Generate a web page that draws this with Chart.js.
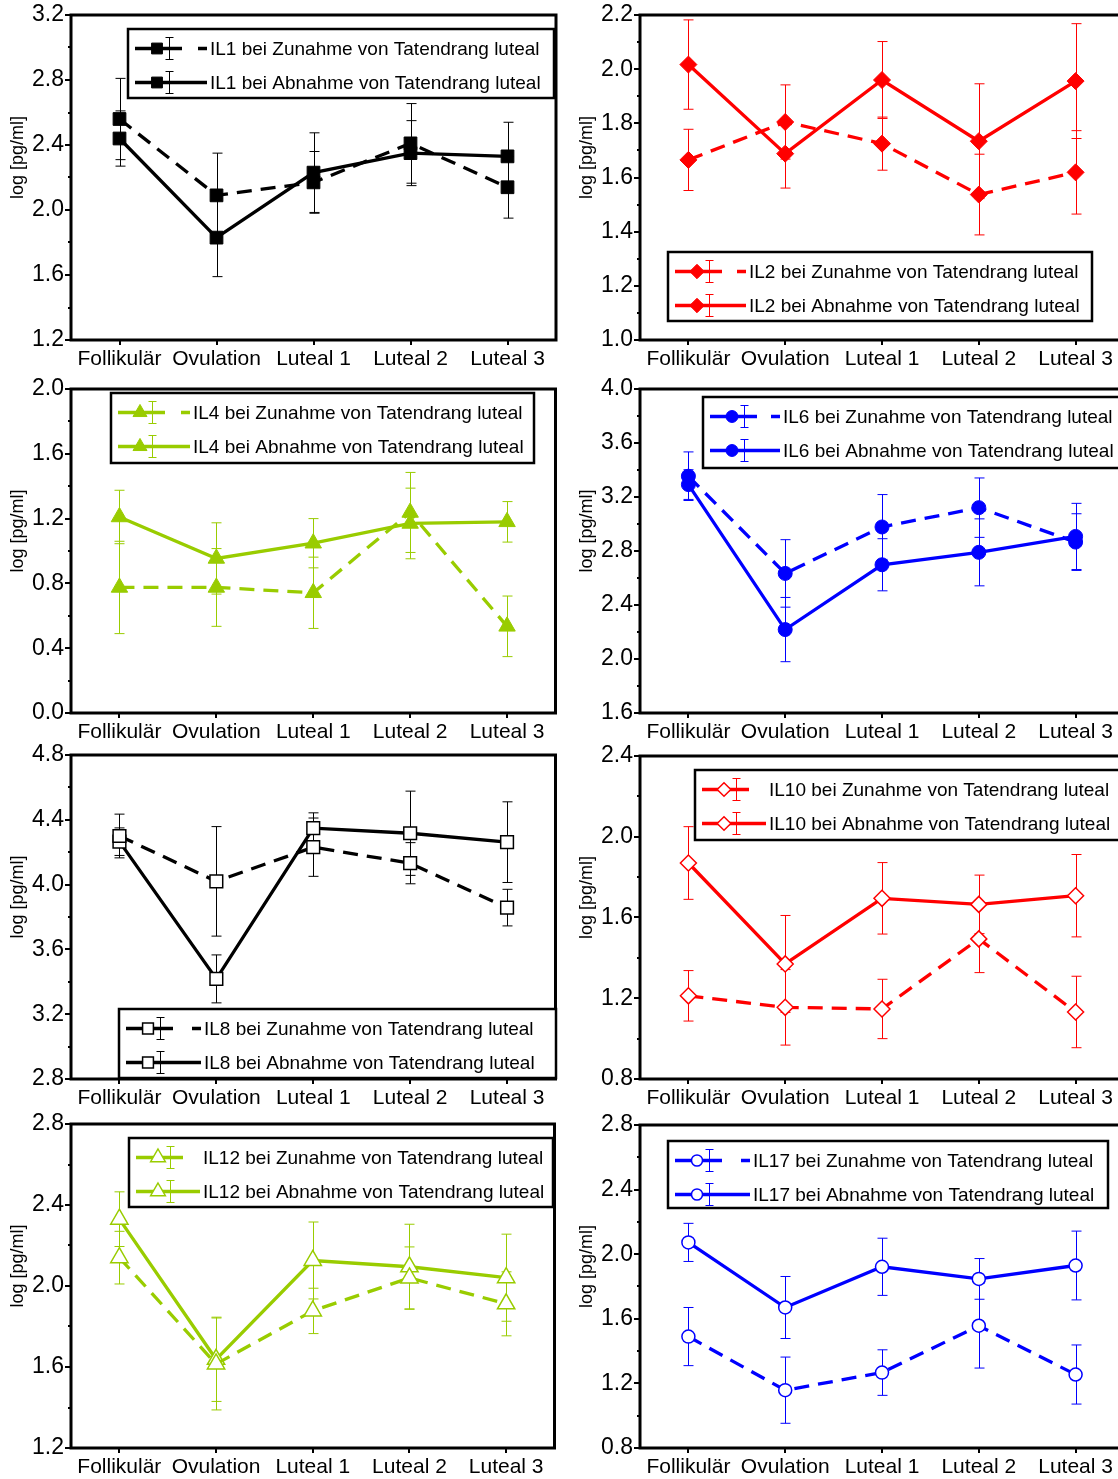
<!DOCTYPE html>
<html>
<head>
<meta charset="utf-8">
<script src="https://cdn.jsdelivr.net/npm/chart.js@4.4.1/dist/chart.umd.min.js"></script>
<style>
  html, body { margin: 0; padding: 0; background: #fff; }
  body { width: 1118px; height: 1479px; overflow: hidden; position: relative; }
  canvas { position: absolute; }
</style>
</head>
<body>
<script>
// categories on the x axis
const categories = ['Follikulär', 'Ovulation', 'Luteal 1', 'Luteal 2', 'Luteal 3'];

// IL1
const il1Ticks  = [1.2, 1.6, 2.0, 2.4, 2.8, 3.2];
const il1Zu     = [2.56, 2.09, 2.17, 2.41, 2.14];
const il1ZuErr  = [0.25, 0.26, 0.19, 0.245, 0.19];
const il1Ab     = [2.44, 1.83, 2.23, 2.35, 2.33];
const il1AbErr  = [0.17, 0.24, 0.245, 0.2, 0.21];

// IL2
const il2Ticks  = [1.0, 1.2, 1.4, 1.6, 1.8, 2.0, 2.2];
const il2Zu     = [1.665, 1.805, 1.725, 1.537, 1.619];
const il2ZuErr  = [0.113, 0.137, 0.098, 0.149, 0.154];
const il2Ab     = [2.017, 1.688, 1.96, 1.734, 1.956];
const il2AbErr  = [0.165, 0.127, 0.142, 0.212, 0.212];

// IL4
const il4Ticks  = [0.0, 0.4, 0.8, 1.2, 1.6, 2.0];
const il4Zu     = [0.775, 0.775, 0.742, 1.238, 0.535];
const il4ZuErr  = [0.285, 0.24, 0.22, 0.247, 0.187];
const il4Ab     = [1.21, 0.954, 1.048, 1.17, 1.18];
const il4AbErr  = [0.165, 0.22, 0.152, 0.218, 0.125];

// IL6
const il6Ticks  = [1.6, 2.0, 2.4, 2.8, 3.2, 3.6, 4.0];
const il6Zu     = [3.354, 2.634, 2.978, 3.121, 2.866];
const il6ZuErr  = [0.18, 0.25, 0.24, 0.22, 0.21];
const il6Ab     = [3.292, 2.218, 2.698, 2.79, 2.908];
const il6AbErr  = [0.11, 0.238, 0.193, 0.248, 0.245];

// IL8
const il8Ticks  = [2.8, 3.2, 3.6, 4.0, 4.4, 4.8];
const il8Zu     = [4.30, 4.02, 4.231, 4.132, 3.858];
const il8ZuErr  = [0.135, 0.338, 0.18, 0.127, 0.113];
const il8Ab     = [4.265, 3.418, 4.348, 4.317, 4.262];
const il8AbErr  = [0.085, 0.148, 0.095, 0.26, 0.249];

// IL10
const il10Ticks = [0.8, 1.2, 1.6, 2.0, 2.4];
const il10Zu    = [1.212, 1.155, 1.147, 1.494, 1.132];
const il10ZuErr = [0.125, 0.187, 0.147, 0.167, 0.177];
const il10Ab    = [1.87, 1.37, 1.695, 1.665, 1.708];
const il10AbErr = [0.18, 0.24, 0.177, 0.145, 0.204];

// IL12
const il12Ticks = [1.2, 1.6, 2.0, 2.4, 2.8];
const il12Zu    = [2.14, 1.615, 1.877, 2.04, 1.912];
const il12ZuErr = [0.13, 0.227, 0.112, 0.153, 0.158];
const il12Ab    = [2.33, 1.638, 2.126, 2.095, 2.041];
const il12AbErr = [0.135, 0.208, 0.19, 0.21, 0.215];

// IL17
const il17Ticks = [0.8, 1.2, 1.6, 2.0, 2.4, 2.8];
const il17Zu    = [1.49, 1.158, 1.267, 1.557, 1.255];
const il17ZuErr = [0.18, 0.205, 0.141, 0.262, 0.183];
const il17Ab    = [2.073, 1.67, 1.922, 1.847, 1.93];
const il17AbErr = [0.118, 0.192, 0.177, 0.126, 0.213];

const FONT  = "'Liberation Sans', Arial, Helvetica, sans-serif";
const GREEN = '#99cc00';
const RED   = '#ff0000';
const BLUE  = '#0000ff';

const panels = [
  { name: 'IL1',  col: 0, top: 15,   bottom: 340,  ticks: il1Ticks,  color: '#000', marker: 'rect',     r: 9,   hollow: false,
    zu: il1Zu,  zuErr: il1ZuErr,  ab: il1Ab,  abErr: il1AbErr,  legend: { x: 128, y: 29,   w: 426, h: 69, textX: 210, shortDash: true } },
  { name: 'IL2',  col: 1, top: 15,   bottom: 340,  ticks: il2Ticks,  color: RED,    marker: 'rectRot',  r: 8.5, hollow: false,
    zu: il2Zu,  zuErr: il2ZuErr,  ab: il2Ab,  abErr: il2AbErr,  legend: { x: 668, y: 252,  w: 424, h: 69, textX: 749, shortDash: true } },
  { name: 'IL4',  col: 0, top: 389,  bottom: 713,  ticks: il4Ticks,  color: GREEN,  marker: 'triangle', r: 9.5, hollow: false,
    zu: il4Zu,  zuErr: il4ZuErr,  ab: il4Ab,  abErr: il4AbErr,  legend: { x: 111, y: 393,  w: 423, h: 70, textX: 193, shortDash: true } },
  { name: 'IL6',  col: 1, top: 389,  bottom: 713,  ticks: il6Ticks,  color: BLUE,   marker: 'circle',   r: 7,   hollow: false,
    zu: il6Zu,  zuErr: il6ZuErr,  ab: il6Ab,  abErr: il6AbErr,  legend: { x: 703, y: 397,  w: 420, h: 71, textX: 783, shortDash: true } },
  { name: 'IL8',  col: 0, top: 755,  bottom: 1079, ticks: il8Ticks,  color: '#000', marker: 'rect',     r: 9,   hollow: true,
    zu: il8Zu,  zuErr: il8ZuErr,  ab: il8Ab,  abErr: il8AbErr,  legend: { x: 119, y: 1009, w: 437, h: 69, textX: 204, shortDash: true } },
  { name: 'IL10', col: 1, top: 756,  bottom: 1079, ticks: il10Ticks, color: RED,    marker: 'rectRot',  r: 8,   hollow: true,
    zu: il10Zu, zuErr: il10ZuErr, ab: il10Ab, abErr: il10AbErr, legend: { x: 695, y: 770,  w: 428, h: 70, textX: 769, shortDash: false } },
  { name: 'IL12', col: 0, top: 1124, bottom: 1448, ticks: il12Ticks, color: GREEN,  marker: 'triangle', r: 10,  hollow: true,
    zu: il12Zu, zuErr: il12ZuErr, ab: il12Ab, abErr: il12AbErr, legend: { x: 129, y: 1138, w: 424, h: 69, textX: 203, shortDash: false } },
  { name: 'IL17', col: 1, top: 1125, bottom: 1448, ticks: il17Ticks, color: BLUE,   marker: 'circle',   r: 6.5, hollow: true,
    zu: il17Zu, zuErr: il17ZuErr, ab: il17Ab, abErr: il17AbErr, legend: { x: 668, y: 1141, w: 440, h: 67, textX: 753, shortDash: true } }
];

// column geometry: canvas left, canvas width, chart area left inside canvas
const columns = [
  { left: 0,   width: 566, plotLeft: 71 },
  { left: 560, width: 574, plotLeft: 80 }
];

function drawMarker(ctx, style, x, y, r) {
  ctx.beginPath();
  if (style === 'rect') {
    const s = r * Math.SQRT1_2;
    ctx.rect(x - s, y - s, 2 * s, 2 * s);
  } else if (style === 'rectRot') {
    ctx.moveTo(x - r, y); ctx.lineTo(x, y - r); ctx.lineTo(x + r, y); ctx.lineTo(x, y + r); ctx.closePath();
  } else if (style === 'triangle') {
    ctx.moveTo(x, y - r); ctx.lineTo(x + r * 0.866, y + r / 2); ctx.lineTo(x - r * 0.866, y + r / 2); ctx.closePath();
  } else {
    ctx.arc(x, y, r, 0, Math.PI * 2);
  }
  ctx.fill();
  ctx.stroke();
}

// error bars under the lines and markers
const errorBars = {
  id: 'errorBars',
  beforeDatasetsDraw(chart) {
    const { ctx, scales: { y } } = chart;
    chart.data.datasets.forEach((ds, i) => {
      const meta = chart.getDatasetMeta(i);
      ctx.save();
      ctx.strokeStyle = ds.borderColor;
      ctx.lineWidth = 1;
      ds.data.forEach((v, j) => {
        const px = Math.round(meta.data[j].x) + 0.5;
        const yt = y.getPixelForValue(v + ds.errors[j]);
        const yb = y.getPixelForValue(v - ds.errors[j]);
        ctx.beginPath();
        ctx.moveTo(px, yt); ctx.lineTo(px, yb);
        ctx.moveTo(px - 5, yt); ctx.lineTo(px + 5, yt);
        ctx.moveTo(px - 5, yb); ctx.lineTo(px + 5, yb);
        ctx.stroke();
      });
      ctx.restore();
    });
  }
};

// frame, minor ticks, y title and the legend box
const decor = {
  id: 'decor',
  afterDraw(chart, args, opts) {
    const { ctx, chartArea: a, scales: { y } } = chart;
    const p = opts.panel, off = opts.offset;
    ctx.save();

    // minor ticks between the labelled ones
    ctx.strokeStyle = '#000';
    ctx.lineWidth = 2;
    for (let k = 0; k < p.ticks.length - 1; k++) {
      const py = Math.round(y.getPixelForValue((p.ticks[k] + p.ticks[k + 1]) / 2));
      ctx.beginPath(); ctx.moveTo(a.left - 3, py); ctx.lineTo(a.left, py); ctx.stroke();
    }

    // plot frame
    ctx.lineWidth = 3;
    ctx.strokeRect(a.left, a.top, a.right - a.left, a.bottom - a.top);

    // y axis title
    ctx.fillStyle = '#000';
    ctx.font = '18px ' + FONT;
    ctx.textAlign = 'center';
    ctx.textBaseline = 'middle';
    ctx.translate(a.left - 53, (a.top + a.bottom) / 2 - 20);
    ctx.rotate(-Math.PI / 2);
    ctx.fillText('log [pg/ml]', 0, 0);
    ctx.setTransform(1, 0, 0, 1, 0, 0);

    // legend
    const L = p.legend;
    const lx = L.x - off.x, ly = L.y - off.y, tx = L.textX - off.x;
    ctx.fillStyle = '#fff';
    ctx.fillRect(lx, ly, L.w, L.h);
    ctx.strokeStyle = '#000';
    ctx.lineWidth = 2.5;
    ctx.strokeRect(lx, ly, L.w, L.h);

    const rows = [ly + 19.5, ly + 53.5];
    chart.data.datasets.forEach((ds, i) => {
      const ry = rows[i];
      ctx.strokeStyle = p.color;
      ctx.lineWidth = 3.3;
      ctx.beginPath();
      if (i === 0) {
        ctx.moveTo(lx + 7, ry); ctx.lineTo(lx + 54, ry);
        if (L.shortDash) { ctx.moveTo(tx - 12, ry); ctx.lineTo(tx - 3, ry); }
      } else {
        ctx.moveTo(lx + 7, ry); ctx.lineTo(tx - 3, ry);
      }
      ctx.stroke();
      // error bar symbol
      const ex = Math.round(lx + 41) + 0.5;
      ctx.lineWidth = 1;
      ctx.beginPath();
      ctx.moveTo(ex, ry - 11); ctx.lineTo(ex, ry + 11);
      ctx.moveTo(ex - 4, ry - 11); ctx.lineTo(ex + 4, ry - 11);
      ctx.moveTo(ex - 4, ry + 11); ctx.lineTo(ex + 4, ry + 11);
      ctx.stroke();
      // marker
      ctx.fillStyle = p.hollow ? '#fff' : p.color;
      ctx.lineWidth = p.hollow ? 1.5 : 1;
      drawMarker(ctx, p.marker, lx + 29, ry, p.r * 0.85);
      // text
      ctx.fillStyle = '#000';
      ctx.font = '19px ' + FONT;
      ctx.textAlign = 'left';
      ctx.textBaseline = 'middle';
      ctx.fillText(ds.label, tx, ry + 1);
    });
    ctx.restore();
  }
};

panels.forEach(p => {
  const col = columns[p.col];
  const plotH = p.bottom - p.top;
  const canvas = document.createElement('canvas');
  const top = p.top - 15;
  canvas.width = col.width;
  canvas.height = plotH + 15 + 40;
  canvas.style.left = col.left + 'px';
  canvas.style.top = top + 'px';
  canvas.style.width = col.width + 'px';
  canvas.style.height = canvas.height + 'px';
  document.body.appendChild(canvas);

  const markerFill = p.hollow ? '#fff' : p.color;
  const mkDataset = (label, data, errors, dashed) => ({
    label,
    data,
    errors,
    borderColor: p.color,
    borderWidth: 3.3,
    borderDash: dashed ? [15, 9] : [],
    pointStyle: p.marker,
    pointRadius: p.r,
    pointBackgroundColor: markerFill,
    pointBorderColor: p.color,
    pointBorderWidth: p.hollow ? 1.5 : 1,
    fill: false,
    tension: 0
  });

  new Chart(canvas.getContext('2d'), {
    type: 'line',
    data: {
      labels: categories,
      datasets: [
        mkDataset(p.name + ' bei Zunahme von Tatendrang luteal', p.zu, p.zuErr, true),
        mkDataset(p.name + ' bei Abnahme von Tatendrang luteal', p.ab, p.abErr, false)
      ]
    },
    options: {
      responsive: false,
      animation: false,
      devicePixelRatio: 1,
      layout: { padding: { top: 15, right: 10, left: 0, bottom: 0 } },
      plugins: {
        legend: { display: false },
        tooltip: { enabled: false },
        decor: { panel: p, offset: { x: col.left, y: top } }
      },
      scales: {
        x: {
          type: 'category',
          offset: true,
          grid: { display: true, drawOnChartArea: false, offset: false, tickLength: 5, color: '#000', lineWidth: 2 },
          border: { display: false },
          ticks: { color: '#000', font: { family: FONT, size: 21 }, padding: 2, maxRotation: 0, autoSkip: false },
          afterFit: s => { s.height = 40; }
        },
        y: {
          min: p.ticks[0],
          max: p.ticks[p.ticks.length - 1],
          grid: { drawOnChartArea: false, tickLength: 6, color: '#000', lineWidth: 2 },
          border: { display: false },
          ticks: { color: '#000', font: { family: FONT, size: 23 }, padding: 1, callback: v => v.toFixed(1) },
          afterBuildTicks: s => { s.ticks = p.ticks.map(v => ({ value: v })); },
          afterFit: s => { s.width = col.plotLeft; }
        }
      }
    },
    plugins: [errorBars, decor]
  });
});
</script>
</body>
</html>
